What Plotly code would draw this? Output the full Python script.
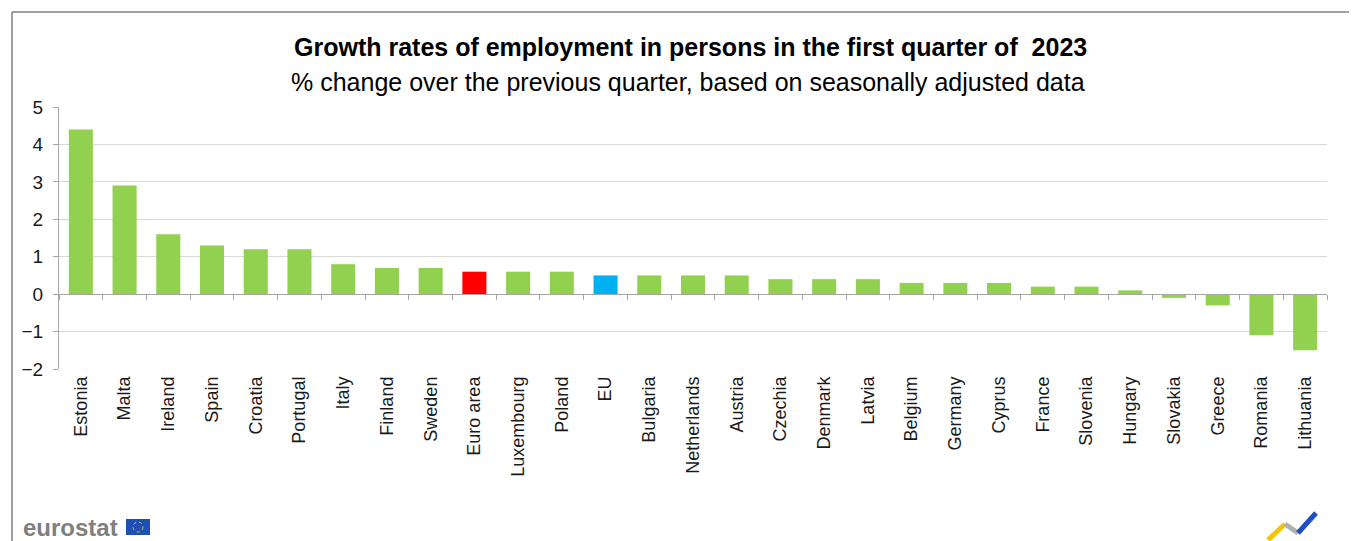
import plotly.graph_objects as go

countries = ["Estonia", "Malta", "Ireland", "Spain", "Croatia", "Portugal", "Italy", "Finland",
             "Sweden", "Euro area", "Luxembourg", "Poland", "EU", "Bulgaria", "Netherlands",
             "Austria", "Czechia", "Denmark", "Latvia", "Belgium", "Germany", "Cyprus", "France",
             "Slovenia", "Hungary", "Slovakia", "Greece", "Romania", "Lithuania"]
values = [4.4, 2.9, 1.6, 1.3, 1.2, 1.2, 0.8, 0.7, 0.7, 0.6, 0.6, 0.6, 0.5, 0.5, 0.5,
          0.5, 0.4, 0.4, 0.4, 0.3, 0.3, 0.3, 0.2, 0.2, 0.1, -0.1, -0.3, -1.1, -1.5]
y_ticks = [-2, -1, 0, 1, 2, 3, 4, 5]

GREEN, RED, BLUE = "#92D050", "#FF0000", "#00B0F0"
colors = [RED if c == "Euro area" else BLUE if c == "EU" else GREEN for c in countries]

fig = go.Figure()
fig.add_trace(go.Bar(x=countries, y=values, marker=dict(color=colors, line=dict(width=0)),
                     showlegend=False, hoverinfo="x+y"))
# invisible trace to carry the category axis drawn at zero
fig.add_trace(go.Scatter(x=countries, y=values, xaxis="x2", mode="markers",
                         marker=dict(opacity=0), showlegend=False, hoverinfo="skip"))

O = 8  # page body margin offset
W, H = 1357 - O, 541 - O
L, R, T, B = 59 - O, 30, 107 - O, 172
ymin, ymax = -2, 5
zero_pos = (0 - ymin) / (ymax - ymin)
FONT = "Liberation Sans, Arial"
xr = [-0.5, len(countries) - 0.5]

fig.update_layout(
    width=W, height=H,
    margin=dict(l=L, r=R, t=T, b=B),
    paper_bgcolor="white", plot_bgcolor="white",
    font=dict(family=FONT, color="#000000"),
    bargap=0.45,
    xaxis=dict(type="category", range=xr, tickangle=-90, tickfont=dict(size=18, color="#1a1a1a"),
               showgrid=False, showline=False, ticks="", ticklabelstandoff=3),
    xaxis2=dict(type="category", range=xr, overlaying="x", anchor="free", position=zero_pos,
                showticklabels=False, showline=True, linecolor="#A6A6A6", linewidth=1,
                ticks="outside", tickson="boundaries", ticklen=5, tickcolor="#A6A6A6",
                showgrid=False, side="bottom"),
    yaxis=dict(range=[ymin, ymax], tickvals=y_ticks, tickfont=dict(size=19, color="#1a1a1a"),
               showgrid=True, gridcolor="#D9D9D9", gridwidth=1, zeroline=False,
               showline=True, linecolor="#A6A6A6", linewidth=1,
               ticks="outside", ticklen=5, tickcolor="#A6A6A6", ticklabelstandoff=6),
)

pw, ph = W - L - R, H - T - B
def px(x): return (x - O - L) / pw
def py(y): return (H - B - (y - O)) / ph

fig.add_annotation(text="<b>Growth rates of employment in persons in the first quarter of  2023</b>",
                   xref="paper", yref="paper", x=px(690), y=py(47),
                   showarrow=False, font=dict(size=25, color="#000000"), xanchor="center", yanchor="middle")
fig.add_annotation(text="% change over the previous quarter, based on seasonally adjusted data",
                   xref="paper", yref="paper", x=px(688), y=py(82),
                   showarrow=False, font=dict(size=25, color="#000000"), xanchor="center", yanchor="middle")

# frame lines
fig.add_shape(type="line", xref="paper", yref="paper", x0=px(12), x1=px(1357), y0=py(12), y1=py(12),
              line=dict(color="#808080", width=1.5))
fig.add_shape(type="line", xref="paper", yref="paper", x0=px(12), x1=px(12), y0=py(12), y1=py(541),
              line=dict(color="#808080", width=1.5))

# eurostat logo
fig.add_annotation(text="<b>eurostat</b>", xref="paper", yref="paper", x=px(21), y=py(527),
                   xanchor="left", yanchor="middle", showarrow=False,
                   font=dict(size=24, color="#7F7F7F", family=FONT))
fig.add_shape(type="rect", xref="paper", yref="paper", x0=px(126), x1=px(150), y0=py(519), y1=py(535),
              fillcolor="#1F4FB4", line=dict(width=0))
fig.add_shape(type="circle", xref="paper", yref="paper", x0=px(133), x1=px(143), y0=py(522), y1=py(532),
              line=dict(color="#E8C420", width=1, dash="dot"))

# right logo
fig.add_shape(type="line", xref="paper", yref="paper", x0=px(1268), x1=px(1285), y0=py(540), y1=py(524),
              line=dict(color="#F5C400", width=5))
fig.add_shape(type="line", xref="paper", yref="paper", x0=px(1285), x1=px(1298), y0=py(524), y1=py(533),
              line=dict(color="#B0B0B0", width=5))
fig.add_shape(type="line", xref="paper", yref="paper", x0=px(1298), x1=px(1316), y0=py(533), y1=py(513),
              line=dict(color="#1F4FC8", width=5))

fig.write_html("out.html")
